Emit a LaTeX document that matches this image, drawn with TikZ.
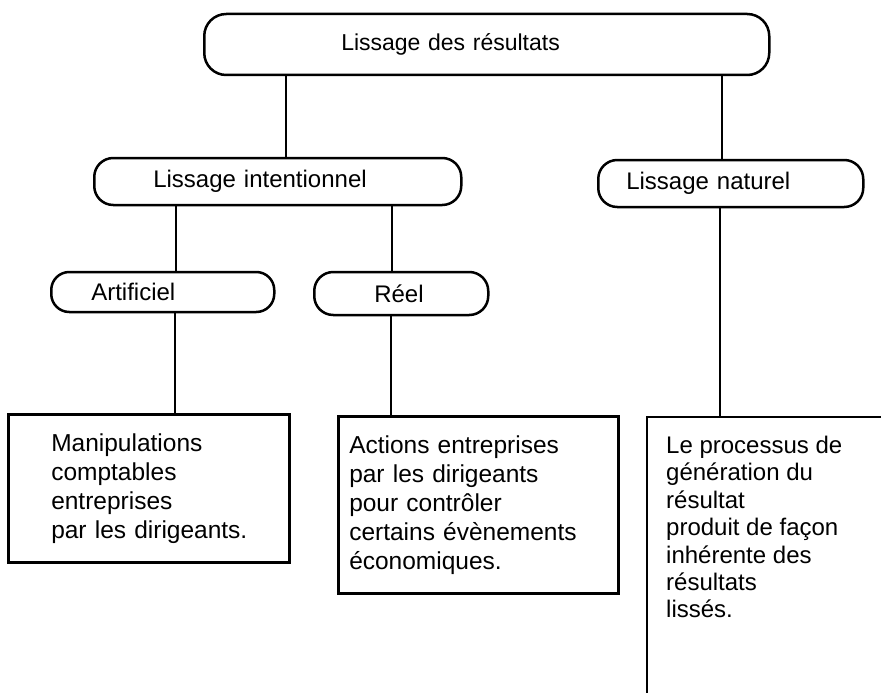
\documentclass[tikz,border=0pt]{standalone}
\usepackage{fontspec}
\setmainfont{Liberation Sans}
\usepackage{tikz}

\begin{document}
\begin{tikzpicture}[x=1pt,y=-1pt,
    pill/.style={draw, line width=2.5pt, rounded corners=19pt, anchor=west, align=left,
        inner ysep=0pt, font=\fontsize{24}{28}\selectfont},
    txtbox/.style={draw, line width=2.5pt, anchor=north west, align=left,
        inner ysep=0pt, font=\fontsize{24.5}{29}\selectfont},
    link/.style={line width=2.5pt}]
    \useasboundingbox (0,0) rectangle (881,693);

    % the three levels of rounded labels
    \node[pill, rounded corners=22pt, minimum height=61pt, inner xsep=137pt, text width=291pt,
        font=\fontsize{23}{28}\selectfont] (top) at (203,44.5) {Lissage des résultats};
    \node[pill, minimum height=47pt, inner xsep=59pt, text width=249pt] (intent) at (93,181.5) {Lissage intentionnel};
    \node[pill, minimum height=47pt, inner xsep=28pt, text width=209pt] (nat) at (597,183.5) {Lissage naturel};
    \node[pill, rounded corners=18pt, minimum height=40pt, inner xsep=40pt, text width=143pt] (art) at (50,292) {Artificiel};
    \node[pill, minimum height=43pt, inner xsep=60pt, text width=54pt] (reel) at (313,293.5) {Réel};

    % boxes with the definitions
    \node[txtbox, minimum height=148pt, inner xsep=43pt, text width=195pt] (manip) at (7,413)
        {Manipulations\\comptables\\entreprises\\par~les~dirigeants.};
    \node[txtbox, minimum height=177pt, inner xsep=11pt, text width=258pt] (actions) at (337,415)
        {Actions~entreprises\\par~les~dirigeants\\pour~contrôler\\certains~évènements\\économiques.};
    \node[anchor=north west, align=left, inner sep=0pt, font=\fontsize{24}{27.4}\selectfont] (proc) at (666,436)
        {Le processus de\\génération du\\résultat\\produit de façon\\inhérente des\\résultats\\lissés.};
    \coordinate (procbox) at (720,417);
    \draw[link] (881,417) -| (647,693);

    % links
    \draw[link] ([xshift=83pt]top.south west) -- ([xshift=193pt]intent.north west);
    \draw[link] ([xshift=519pt]top.south west) -- ([xshift=125pt]nat.north west);
    \draw[link] ([xshift=83pt]intent.south west) -- ([xshift=126pt]art.north west);
    \draw[link] ([xshift=299pt]intent.south west) -- ([xshift=79pt]reel.north west);
    \draw[link] ([xshift=125pt]art.south west) -- ([xshift=168pt]manip.north west);
    \draw[link] ([xshift=78pt]reel.south west) -- ([xshift=54pt]actions.north west);
    \draw[link] ([xshift=123pt]nat.south west) -- (procbox);
\end{tikzpicture}
\end{document}
